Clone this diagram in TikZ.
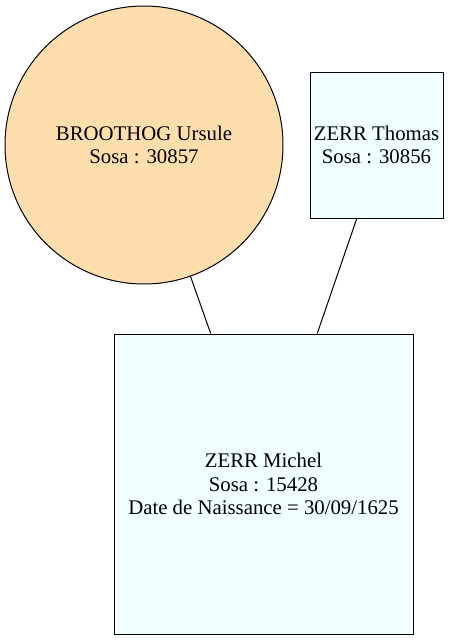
\documentclass[tikz,border=0pt]{standalone}
\usepackage{fontspec}
\setmainfont{Liberation Serif}
\usetikzlibrary{calc}
\definecolor{peach}{HTML}{FFDEAD}
\definecolor{azurebg}{HTML}{F0FFFF}
\tikzset{
  person/.style={draw=black, line width=0.75pt, align=center, inner sep=0pt,
    font=\rmfamily\fontsize{15.6}{17.4}\selectfont},
  female/.style={person, circle, fill=peach, minimum size=208.5pt},
  malebox/.style={person, rectangle, fill=azurebg},
  link/.style={draw=black, line width=0.75pt}
}
\begin{document}
\begin{tikzpicture}[x=0.75pt,y=-0.75pt]
\useasboundingbox (0,0) rectangle (462,640);
\node[female] (c) at (144,145) {BROOTHOG Ursule\\Sosa : 30857};
\node[malebox, minimum width=99.75pt, minimum height=109.5pt] (t) at (376.5,145) {ZERR Thomas\\Sosa : 30856};
\node[malebox, minimum width=224.25pt, minimum height=225pt] (m) at (263.5,484) {ZERR Michel\\Sosa : 15428\\Date de Naissance = 30/09/1625};
\coordinate (m1) at ($(m.north west)!0.324!(m.north east)$);
\coordinate (m2) at ($(m.north west)!0.679!(m.north east)$);
\coordinate (t1) at ($(t.south west)!0.353!(t.south east)$);
\draw[link] (c) -- (m1);
\draw[link] (t1) -- (m2);
\end{tikzpicture}
\end{document}
